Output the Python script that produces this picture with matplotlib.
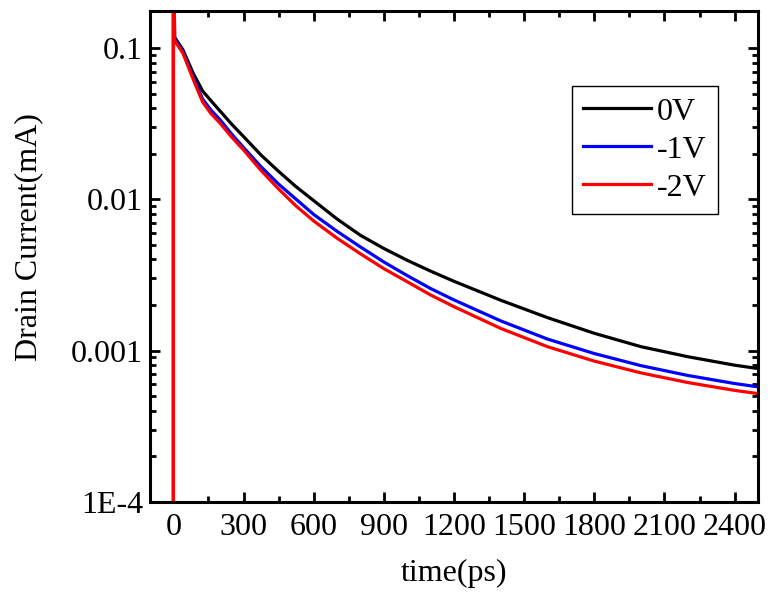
import matplotlib
matplotlib.use("Agg")
import matplotlib.pyplot as plt
from matplotlib.ticker import MultipleLocator, LogLocator, NullFormatter

# datos
tiempo = [0, 0, 5, 40, 85, 125, 160, 200, 250, 300, 375, 450, 525, 600, 700,
          800, 900, 1000, 1100, 1200, 1400, 1600, 1800, 2000, 2200, 2400, 2500]

corriente_0V = [1e-8, 1.0, 0.118, 0.098, 0.068, 0.052, 0.045, 0.0383, 0.0313,
                0.026, 0.0196, 0.0153, 0.0121, 0.0098, 0.00741, 0.00578,
                0.00473, 0.00395, 0.00335, 0.00287, 0.00215, 0.00165, 0.0013,
                0.00106, 0.00091, 0.00080, 0.00076]
corriente_1V = [1e-8, 1.0, 0.115, 0.095, 0.064, 0.046, 0.039, 0.0335, 0.0269,
                0.022, 0.0164, 0.0126, 0.0100, 0.00794, 0.00614, 0.00484,
                0.00385, 0.00313, 0.00257, 0.00216, 0.00157, 0.00119, 0.000955,
                0.000794, 0.000684, 0.000605, 0.000575]
corriente_2V = [1e-8, 1.0, 0.112, 0.093, 0.062, 0.044, 0.037, 0.0318, 0.0257,
                0.0212, 0.0155, 0.0117, 0.00902, 0.00719, 0.00553, 0.00436,
                0.00348, 0.00285, 0.00233, 0.00195, 0.0014, 0.00106, 0.000851,
                0.000711, 0.000614, 0.000545, 0.000519]

etiquetas = ["0V", "-1V", "-2V"]
colores = ["black", "blue", "red"]

yticks = [1e-4, 1e-3, 1e-2, 1e-1]
ytick_labels = ["1E-4", "0.001", "0.01", "0.1"]
xticks = [0, 300, 600, 900, 1200, 1500, 1800, 2100, 2400]

plt.rcParams['font.family'] = ['Liberation Serif', 'DejaVu Serif']
plt.rcParams['font.size'] = 23

fig = plt.figure(figsize=(7.71, 5.98), dpi=100)
ax = fig.add_axes([0.1946, 0.161, 0.7885, 0.8206])

for y, c, lab in zip([corriente_0V, corriente_1V, corriente_2V], colores, etiquetas):
    ax.plot(tiempo, y, color=c, lw=2.3, label=lab)

ax.set_yscale('log')
ax.set_xlim(-100, 2500)
ax.set_ylim(1e-4, 0.176)

ax.set_xticks(xticks)
ax.xaxis.set_minor_locator(MultipleLocator(150))
ax.set_yticks(yticks)
ax.set_yticklabels(ytick_labels)
ax.yaxis.set_minor_locator(LogLocator(base=10, subs=range(2, 10)))
ax.yaxis.set_minor_formatter(NullFormatter())

ax.tick_params(which='both', direction='in', top=True, right=True, width=2)
ax.tick_params(which='major', length=7)
ax.tick_params(axis='x', which='major', pad=8)
ax.tick_params(axis='y', which='major', pad=5)
ax.tick_params(which='minor', length=4)
for s in ax.spines.values():
    s.set_linewidth(2.2)

ax.set_xlabel('time(ps)', labelpad=12)
ax.set_ylabel('Drain Current(mA)')
ax.yaxis.set_label_coords(-0.175, 0.54)

leg = ax.legend(loc='upper right', bbox_to_anchor=(0.934, 0.847), fontsize=23,
                handlelength=2.1, labelspacing=0.27, borderpad=0.35,
                handletextpad=0.2, fancybox=False, framealpha=1,
                edgecolor='black', borderaxespad=0)
leg.get_frame().set_linewidth(1)

fig.savefig('out.png', dpi=100)
